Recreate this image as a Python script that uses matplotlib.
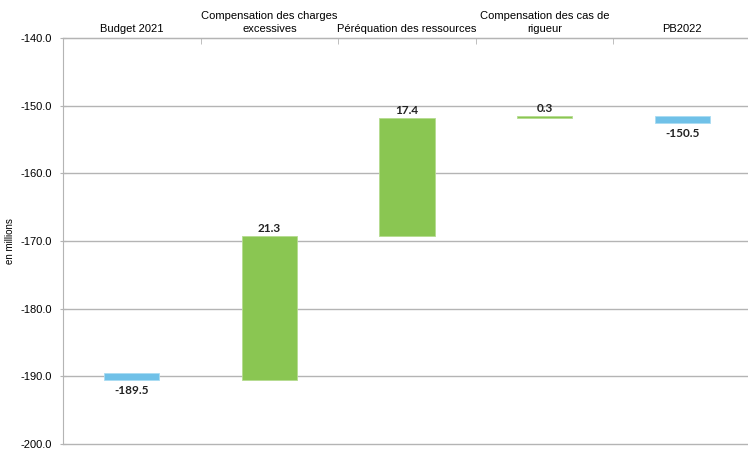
import numpy as np
import matplotlib.pyplot as plt
from matplotlib.ticker import FixedLocator

# Waterfall data (in millions)
categories = ["Budget 2021", "Compensation des charges\nexcessives", "Péréquation des ressources",
              "Compensation des cas de\nrigueur", "PB2022"]
start_value = -189.5
deltas = [21.3, 17.4, 0.3]
end_value = -150.5

blue = "#70C1E8"
green = "#8AC652"
grid_col = "#B4B4B4"
marker_h = 1.0  # thickness of the total markers
bar_w = 0.4

fig = plt.figure(figsize=(7.48, 4.5), dpi=100)
ax = fig.add_axes([63 / 748, 6 / 450, 688 / 748, 406 / 450])

# the steps start from the bottom of the first total marker
level = start_value - marker_h
ax.bar(0, marker_h, bottom=level, width=bar_w, color=blue, edgecolor="#A9DCF2", linewidth=0.6, zorder=3)
ax.text(0, level - 0.8, f"{start_value:.1f}", ha="center", va="top",
        fontsize=8.5, fontweight="bold", family="Lato", color="#222222")

for i, d in enumerate(deltas, start=1):
    ax.bar(i, d, bottom=level, width=bar_w, color=green, edgecolor="#B5DC8F", linewidth=0.6, zorder=3)
    ax.text(i, level + d + 0.3, f"{d:.1f}", ha="center", va="bottom",
            fontsize=8.5, fontweight="bold", family="Lato", color="#222222")
    level += d

n = len(categories) - 1
ax.bar(n, marker_h, bottom=level - marker_h, width=bar_w, color=blue, edgecolor="#A9DCF2", linewidth=0.6, zorder=3)
ax.text(n, level - marker_h - 0.8, f"{end_value:.1f}", ha="center", va="top",
        fontsize=8.5, fontweight="bold", family="Lato", color="#222222")

ax.set_xlim(-0.5, len(categories) - 0.5)
ax.set_ylim(-200, -140)
ax.set_yticks(np.arange(-200, -139, 10))
ax.set_yticklabels([f"{v:.1f}" for v in np.arange(-200, -139, 10)], family="Liberation Sans", fontsize=8)
ax.yaxis.grid(True, color=grid_col, linewidth=1.0, zorder=0)
for gl in ax.get_ygridlines():
    gl.set_clip_on(False)
ax.set_axisbelow(True)

# category labels along the top, ticks between categories
ax.xaxis.tick_top()
ax.set_xticks(range(len(categories)))
ax.set_xticklabels(categories, family="Liberation Sans", fontsize=8, linespacing=1.4)
ax.tick_params(axis="x", which="major", length=0, pad=3)
ax.xaxis.set_minor_locator(FixedLocator(np.arange(0.5, len(categories) - 0.5, 1)))
ax.tick_params(axis="x", which="minor", top=True, direction="in", length=4, color=grid_col)
ax.tick_params(axis="y", length=4, color=grid_col, direction="inout", pad=6)

for s in ["right", "bottom"]:
    ax.spines[s].set_visible(False)
ax.spines["top"].set_color(grid_col)
ax.spines["left"].set_color(grid_col)

fig.text(10 / 748, 1 - 241 / 450, "en millions", rotation=90, ha="center", va="center",
         family="Liberation Sans", fontsize=7)

fig.savefig("out.png", dpi=100)
